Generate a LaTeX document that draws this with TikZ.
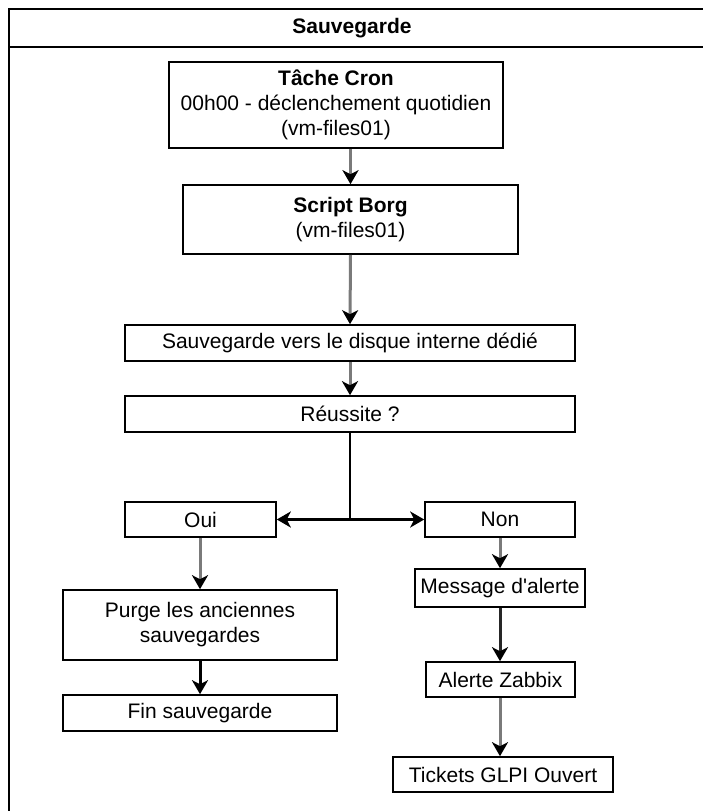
\documentclass[tikz,border=0pt]{standalone}
\usepackage{fontspec}
\setmainfont{Liberation Sans}
\font\aposfont="Liberation Sans" at 21pt
\usetikzlibrary{arrows.meta}
\definecolor{lgray}{HTML}{7A7A7A}
\definecolor{dgray}{HTML}{262626}
\begin{document}
\begin{tikzpicture}[x=1pt,y=-1pt,
  box/.style={draw=black,line width=1.6pt,fill=white,inner sep=0pt,align=center,
    font=\fontsize{21}{25}\selectfont},
  conn/.style={line width=3pt,lgray,-{Stealth[length=14pt,width=16pt,inset=4pt,color=black]}},
  connk/.style={conn,draw=black},
  connd/.style={conn,draw=dgray}]
\useasboundingbox (0,0) rectangle (703,811);
\fill[white] (0,0) rectangle (703,811);
% swimlane frame
\draw[line width=1.8pt] (9,830) -- (9,9) -- (720,9);
\draw[line width=1.8pt] (9,47) -- (720,47);
\node[font=\fontsize{21}{25}\selectfont\bfseries] (title) at (352,28) {Sauvegarde};
% nodes
\node[box,minimum width=334pt,minimum height=86pt] (cron) at (336,105)
  {\textbf{Tâche Cron}\\00h00 - déclenchement quotidien\\(vm-files01)};
\node[box,minimum width=335pt,minimum height=69pt] (script) at (350.5,219.5)
  {\textbf{Script Borg}\\(vm-files01)};
\node[box,minimum width=450pt,minimum height=36pt] (save) at (350,343)
  {Sauvegarde vers le disque interne dédié};
\node[box,minimum width=450pt,minimum height=36pt] (reussite) at (350,414)
  {Réussite ?};
\node[box,minimum width=151pt,minimum height=35pt] (oui) at (200.5,519.5) {Oui};
\node[box,minimum width=150pt,minimum height=35pt] (non) at (500,519.5) {Non};
\node[box,minimum width=274pt,minimum height=70pt] (purge) at (200,625)
  {Purge les anciennes\\sauvegardes};
\node[box,minimum width=274pt,minimum height=36pt] (fin) at (200,713) {Fin sauvegarde};
\node[box,minimum width=170pt,minimum height=38pt] (msg) at (500,588) {Message d{\aposfont'}alerte};
\node[box,minimum width=149pt,minimum height=35pt] (zab) at (500.5,679.5) {Alerte Zabbix};
\node[box,minimum width=220pt,minimum height=35pt] (tick) at (503,774.5) {Tickets GLPI Ouvert};
\coordinate (br) at (reussite.south |- oui.east);
% connectors
\draw[conn] (script.north |- cron.south) -- (script.north);
\draw[conn] (script.south) -- (save.north);
\draw[conn] (save.south) -- (reussite.north);
\draw[line width=2.4pt] (reussite.south) -- (br);
\draw[connk,line width=2.4pt] (br) -- (oui.east);
\draw[connk,line width=2.4pt] (br) -- (non.west);
\draw[conn] (oui.south -| purge.north) -- (purge.north);
\draw[connk] (purge.south) -- (fin.north);
\draw[conn] (non.south) -- (msg.north);
\draw[connd] (msg.south) -- (msg.south |- zab.north);
\draw[conn] (msg.south |- zab.south) -- (msg.south |- tick.north);
\end{tikzpicture}
\end{document}
